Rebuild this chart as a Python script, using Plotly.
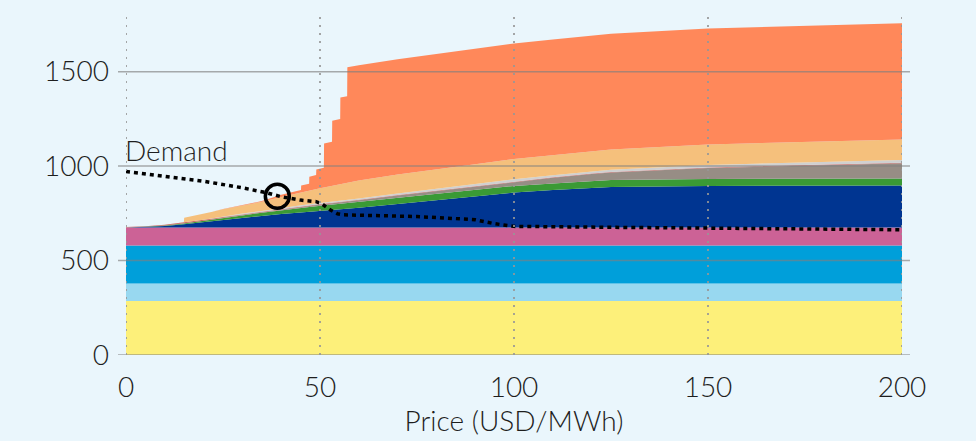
import plotly.graph_objects as go

# Supply stack (MW capacity per technology, by offer price in USD/MWh)
flat_x = [0, 200]
solar = [286, 286]
wind_offshore = [92, 92]
wind_onshore = [202, 202]
nuclear = [95, 95]

mid_x = [0, 5, 10, 15, 20, 25, 30, 35, 40, 45, 50, 60, 70, 80, 90, 100, 110, 120, 125, 150, 175, 200]
coal = [0, 3, 8, 18, 28, 42, 52, 62, 72, 80, 88, 105, 125, 145, 165, 185, 198, 210, 215, 220, 222, 223]
gas_ccgt = [0, 1, 2, 4, 6, 9, 12, 16, 20, 24, 27, 30, 32, 33, 34, 35, 35, 36, 36, 37, 37, 37]
hydro = [0, 0, 1, 1, 2, 2, 3, 3, 4, 5, 6, 9, 12, 15, 18, 22, 30, 37, 40, 58, 70, 80]
biomass = [2, 2, 3, 3, 3, 3, 3, 3, 3, 3, 3, 3, 3, 3, 3, 3, 3, 3, 3, 3, 3, 3]
other = [0, 0, 1, 1, 2, 3, 4, 4, 5, 5, 6, 7, 8, 9, 9, 10, 10, 11, 12, 13, 13, 14]

gas_ocgt_x = [0, 14.9, 15, 20, 25, 30, 35, 40, 45, 50, 55, 60, 70, 80, 90, 100, 125, 150, 200]
gas_ocgt = [0, 0, 25, 30, 38, 44, 48, 58, 66, 78, 88, 95, 100, 104, 106, 108, 107, 109, 109]

oil_x = [0, 22, 30, 35, 40, 45.1, 45.15, 47.2, 47.25, 49.0, 49.05, 51.0, 51.05,
         53.1, 53.15, 55.2, 55.25, 57.0, 57.05, 200]
oil = [0, 0, 2, 4, 12, 15, 38, 38, 75, 75, 104, 104, 232,
       232, 343, 343, 457, 457, 610, 615]

# Demand curve
demand_x = [0, 10, 20, 30, 36, 40, 45, 49, 50.5, 52.5, 54.5, 56, 65, 75, 85, 90, 95, 100, 125, 150, 175, 200]
demand_y = [972, 948, 920, 885, 860, 838, 820, 812, 800, 770, 748, 742, 738, 733, 722, 716, 695, 681, 676, 672, 668, 663]

# Market clearing point
clearing_price = [39]
clearing_volume = [840]

x_ticks = [0, 50, 100, 150, 200]
y_ticks = [0, 500, 1000, 1500]

layers = [
    (flat_x, solar, "#fdf07a"),
    (flat_x, wind_offshore, "#98d8f0"),
    (flat_x, wind_onshore, "#009fda"),
    (flat_x, nuclear, "#cc6296"),
    (mid_x, coal, "#003591"),
    (mid_x, gas_ccgt, "#3a9a35"),
    (mid_x, hydro, "#978d85"),
    (mid_x, biomass, "#c9605c"),
    (mid_x, other, "#d0d0d0"),
    (gas_ocgt_x, gas_ocgt, "#f5c07c"),
    (oil_x, oil, "#ff885a"),
]

fig = go.Figure()
for xs, ys, col in layers:
    fig.add_trace(go.Scatter(
        x=xs, y=ys, mode="lines", stackgroup="supply", stackgaps="interpolate",
        line=dict(width=0, color=col), fillcolor=col, hoverinfo="skip",
    ))

fig.add_trace(go.Scatter(
    x=demand_x, y=demand_y, mode="lines",
    line=dict(color="black", width=3.5, dash="4px,4px"),
))
fig.add_trace(go.Scatter(
    x=clearing_price, y=clearing_volume, mode="markers",
    marker=dict(size=24, color="rgba(0,0,0,0)", line=dict(color="black", width=3.5)),
))

shapes = []
for yv in y_ticks:
    shapes.append(dict(type="line", xref="paper", yref="y", x0=-0.0103, x1=1.0103,
                       y0=yv, y1=yv, layer="above",
                       line=dict(color="rgba(128,128,128,0.65)", width=1.5)))
for xv in x_ticks:
    shapes.append(dict(type="line", xref="x", yref="paper", x0=xv, x1=xv,
                       y0=0, y1=1, layer="above",
                       line=dict(color="rgba(150,150,150,0.85)", width=2, dash="2px,6px")))

font = dict(family="Lato, sans-serif", size=28, color="#1e1e1e", weight=300)

fig.update_layout(
    width=976, height=441,
    margin=dict(l=126, r=74, t=15, b=86),
    paper_bgcolor="#eaf6fc", plot_bgcolor="#eaf6fc",
    showlegend=False,
    font=font,
    shapes=shapes,
    annotations=[dict(x=0, y=1085, xref="x", yref="y", text="Demand", showarrow=False,
                      xanchor="left", yanchor="middle", xshift=-3, font=font)],
    xaxis=dict(range=[0, 200], tickvals=x_ticks, showgrid=False, zeroline=False,
               showline=False, ticks="", ticklabelstandoff=13, tickfont=font,
               title=dict(text="Price (USD/MWh)", font=font, standoff=0)),
    yaxis=dict(range=[0, 1800], tickvals=y_ticks, showgrid=False, zeroline=False,
               showline=False, ticks="", ticklabelstandoff=16, tickfont=font),
)

fig.write_html("out.html")
